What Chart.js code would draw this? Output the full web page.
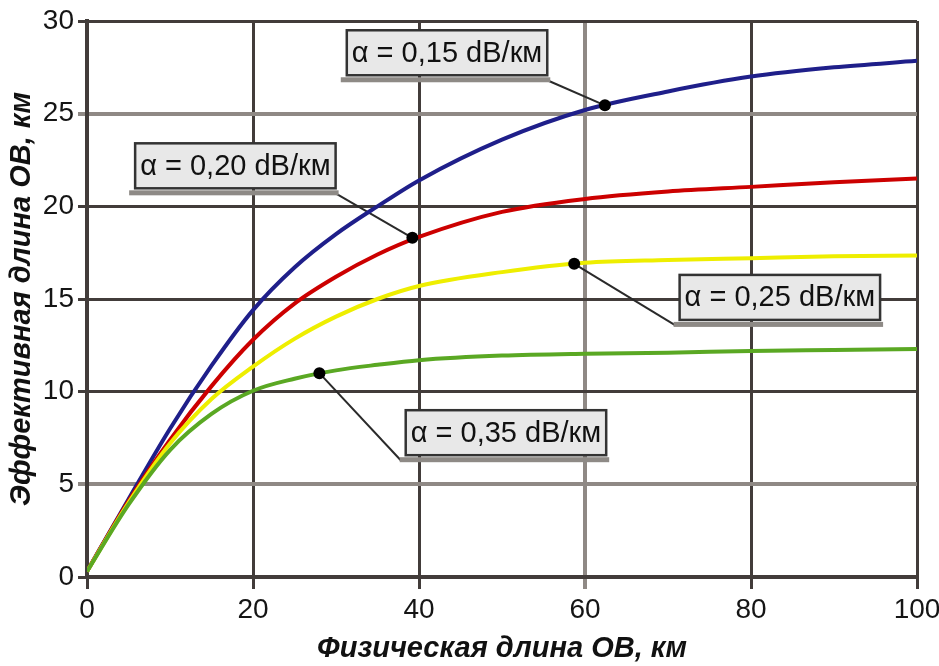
<!DOCTYPE html>
<html>
<head>
<meta charset="utf-8">
<script src="https://cdn.jsdelivr.net/npm/chart.js@4.4.1/dist/chart.umd.min.js"></script>
<style>
  html, body { margin: 0; padding: 0; background: #fff; }
  #wrap { width: 939px; height: 666px; }
</style>
</head>
<body>
<div id="wrap"><canvas id="chart"></canvas></div>
<script>
// physical fibre length, km
const lengthKm = [0, 5, 10, 15, 20, 25, 30, 35, 40, 50, 60, 70, 80, 90, 100];

// effective length, km - for each attenuation
const eff015 = [0.3, 4.2, 8.0, 11.4, 14.4, 16.7, 18.5, 20.0, 21.4, 23.6, 25.2, 26.2, 27.0, 27.5, 27.85];
const eff020 = [0.3, 4.1, 7.4, 10.3, 12.8, 14.75, 16.2, 17.4, 18.35, 19.7, 20.4, 20.8, 21.05, 21.3, 21.5];
const eff025 = [0.3, 4.0, 7.2, 9.6, 11.35, 12.85, 14.05, 15.0, 15.7, 16.45, 16.95, 17.1, 17.2, 17.3, 17.35];
const eff035 = [0.3, 3.9, 6.85, 8.8, 10.05, 10.7, 11.15, 11.45, 11.7, 11.95, 12.05, 12.1, 12.2, 12.25, 12.3];

const curveLabels = ['α = 0,15 dB/км', 'α = 0,20 dB/км', 'α = 0,25 dB/км', 'α = 0,35 dB/км'];

// black dots where the callouts point
const markerKm = [62.4, 39.2, 58.7, 28.0];
const markerEff = [25.45, 18.3, 16.9, 11.0];

const xTicks = [0, 20, 40, 60, 80, 100];
const yTicks = [0, 5, 10, 15, 20, 25, 30];

const DARK = '#423c3a';
const GREY = '#8f8985';
const FONT = '"Liberation Sans", Arial, sans-serif';

function points(ys) {
  return lengthKm.map((x, i) => ({ x: x, y: ys[i] }));
}

// label boxes with a pointer line to each dot
const callouts = {
  id: 'callouts',
  beforeDatasetsDraw(chart) {
    const { ctx, scales: { x, y } } = chart;
    const boxes = [
      { bx: 31.3, by: 29.5, from: 'right' },
      { bx: 5.8, by: 23.4, from: 'right' },
      { bx: 71.4, by: 16.3, from: 'left' },
      { bx: 38.4, by: 9.0, from: 'left' }
    ];
    ctx.save();
    ctx.font = '29px ' + FONT;
    boxes.forEach((b, i) => {
      const left = x.getPixelForValue(b.bx);
      const top = y.getPixelForValue(b.by);
      const w = ctx.measureText(curveLabels[i]).width + 10;
      const h = 45;

      const mx = x.getPixelForValue(markerKm[i]);
      const my = y.getPixelForValue(markerEff[i]);
      const sx = b.from === 'right' ? left + w : left - 5;
      const sy = top + h + 5;
      ctx.strokeStyle = '#2a2a2a';
      ctx.lineWidth = 2;
      ctx.beginPath();
      ctx.moveTo(sx, sy);
      ctx.lineTo(mx, my);
      ctx.stroke();

      // shadow strip under the box
      ctx.fillStyle = '#8e8a86';
      ctx.fillRect(left - 6, top + h + 2, w + 9, 5);

      ctx.fillStyle = '#e8e8e8';
      ctx.fillRect(left, top, w, h);
      ctx.strokeStyle = '#333';
      ctx.lineWidth = 2.5;
      ctx.strokeRect(left, top, w, h);

      ctx.fillStyle = '#111';
      ctx.textBaseline = 'middle';
      ctx.fillText(curveLabels[i], left + 5, top + h / 2 + 1);
    });
    ctx.restore();
  }
};

const line = (data, color, order) => ({
  data: points(data),
  borderColor: color,
  borderWidth: 4,
  pointRadius: 0,
  fill: false,
  cubicInterpolationMode: 'monotone',
  order: order
});

new Chart(document.getElementById('chart'), {
  type: 'line',
  data: {
    datasets: [
      line(eff015, '#1f1f8a', 4),
      line(eff020, '#cc0000', 3),
      line(eff025, '#eeee00', 2),
      line(eff035, '#5aa823', 1),
      {
        data: markerKm.map((x, i) => ({ x: x, y: markerEff[i] })),
        showLine: false,
        pointRadius: 6,
        pointBackgroundColor: '#000',
        pointBorderWidth: 0,
        order: 0
      }
    ]
  },
  options: {
    responsive: true,
    maintainAspectRatio: false,
    devicePixelRatio: 1,
    animation: false,
    layout: { padding: { top: 21, right: 22, left: 0, bottom: 0 } },
    plugins: {
      legend: { display: false },
      tooltip: { enabled: false }
    },
    scales: {
      x: {
        type: 'linear',
        min: 0,
        max: 100,
        afterBuildTicks: axis => { axis.ticks = xTicks.map(v => ({ value: v })); },
        afterFit: axis => { axis.height = 89; axis.paddingRight = 0; axis.paddingLeft = 0; },
        ticks: { color: '#151515', font: { family: FONT, size: 28 }, padding: 4, maxRotation: 0 },
        grid: {
          color: c => (c.tick && c.tick.value === 60) ? GREY : DARK,
          lineWidth: c => (c.tick && c.tick.value === 60) ? 4 : 3,
          tickLength: 12
        },
        border: { color: DARK, width: 4 },
        title: {
          display: true,
          text: 'Физическая длина ОВ, км',
          color: '#111',
          font: { family: FONT, size: 29, style: 'italic', weight: 'bold' },
          padding: { top: 0, bottom: 0 }
        }
      },
      y: {
        min: 0,
        max: 30,
        afterBuildTicks: axis => { axis.ticks = yTicks.map(v => ({ value: v })); },
        afterFit: axis => { axis.width = 87; },
        ticks: { color: '#151515', font: { family: FONT, size: 28 }, padding: 4 },
        grid: {
          color: c => (c.tick && (c.tick.value === 5 || c.tick.value === 25)) ? GREY : DARK,
          lineWidth: c => (c.tick && (c.tick.value === 5 || c.tick.value === 25)) ? 4 : 3,
          tickLength: 9
        },
        border: { color: DARK, width: 4 },
        title: {
          display: true,
          text: 'Эффективная длина ОВ, км',
          color: '#111',
          font: { family: FONT, size: 29, style: 'italic', weight: 'bold' },
          padding: { top: 5, bottom: 0 }
        }
      }
    }
  },
  plugins: [callouts]
});
</script>
</body>
</html>
